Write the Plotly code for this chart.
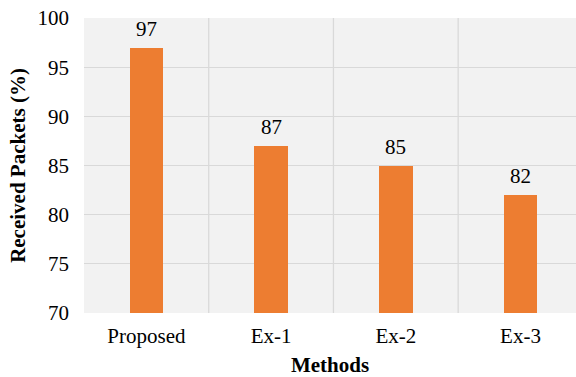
import plotly.graph_objects as go

methods = ["Proposed", "Ex-1", "Ex-2", "Ex-3"]
received = [97, 87, 85, 82]

bar_color = "#ED7D31"
font_family = "Liberation Serif, Times New Roman, serif"
fs = 21

fig = go.Figure()
fig.add_trace(go.Bar(
    x=methods,
    y=received,
    width=0.27,
    marker=dict(color=bar_color, line=dict(width=0)),
    cliponaxis=False,
))

# value labels above each bar
for m, v in zip(methods, received):
    fig.add_annotation(x=m, y=v, text=str(v), showarrow=False,
                       yanchor="bottom", yshift=5,
                       font=dict(family=font_family, size=fs, color="#000000"))

# category boundaries drawn as vertical grid lines
for i in range(len(methods)):
    fig.add_shape(type="line", xref="x", yref="paper",
                  x0=i + 0.5, x1=i + 0.5, y0=0, y1=1,
                  line=dict(color="#d9d9d9", width=1.3), layer="below")

fig.update_layout(
    width=576, height=377,
    margin=dict(l=84, r=0, t=18, b=64),
    paper_bgcolor="#ffffff",
    plot_bgcolor="#f2f2f2",
    showlegend=False,
    bargap=0,
    font=dict(family=font_family, size=fs, color="#000000"),
)
fig.update_xaxes(
    range=[-0.5, 3.445],
    showgrid=False,
    ticks="",
    ticklabelstandoff=8,
    tickfont=dict(family=font_family, size=fs, color="#000000"),
    title=dict(text="<b>Methods</b>", font=dict(family=font_family, size=fs), standoff=14),
    showline=False,
    zeroline=False,
)
fig.update_yaxes(
    range=[70, 100],
    dtick=5,
    showgrid=True,
    gridcolor="#d9d9d9",
    gridwidth=1.3,
    ticks="",
    ticklabelstandoff=14,
    tickfont=dict(family=font_family, size=fs, color="#000000"),
    title=dict(text="<b>Received Packets (%)</b>", font=dict(family=font_family, size=fs), standoff=6),
    zeroline=False,
    showline=False,
)

fig.write_html("out.html")
